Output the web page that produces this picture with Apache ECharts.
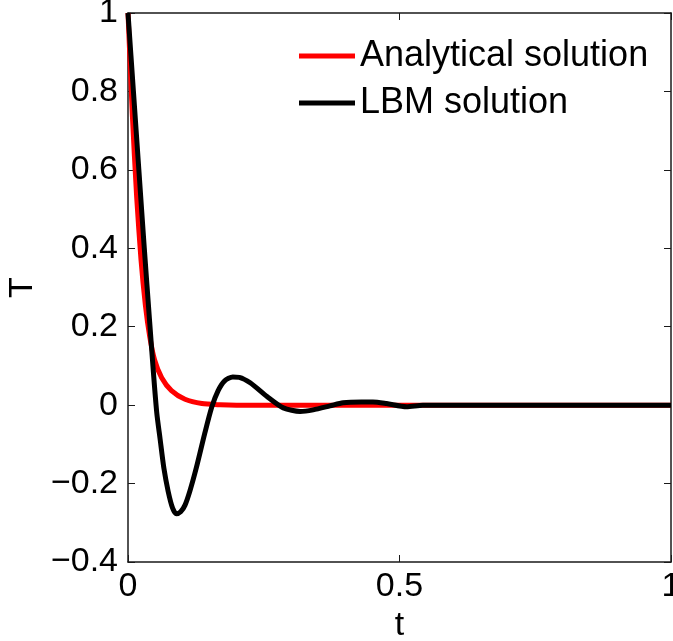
<!DOCTYPE html>
<html>
<head>
<meta charset="utf-8">
<script src="https://cdn.jsdelivr.net/npm/echarts@6/dist/echarts.min.js"></script>
<style>
  html, body { margin: 0; padding: 0; background: #fff; }
  #chart { width: 673px; height: 641px; }
</style>
</head>
<body>
<div id="chart"></div>
<script>
// Temperature decay: analytical solution vs. lattice Boltzmann (LBM) result
const analyticalT = [0, 0.008, 0.016, 0.024, 0.032, 0.04, 0.049, 0.062, 0.08, 0.105, 0.136, 0.17, 0.2, 0.3, 0.4, 0.5, 0.6, 0.7, 0.8, 0.9, 1.0];
const analyticalVal = [1.0, 0.74, 0.53, 0.37, 0.255, 0.175, 0.115, 0.07, 0.037, 0.015, 0.004, 0.001, 0, 0, 0, 0, 0, 0, 0, 0, 0];

const lbmT = [0, 0.01, 0.02, 0.03, 0.04, 0.047, 0.053, 0.059, 0.066, 0.074, 0.082, 0.089, 0.097, 0.105, 0.114, 0.126, 0.141, 0.154, 0.166, 0.178, 0.193, 0.205, 0.225, 0.256, 0.286, 0.317, 0.341, 0.372, 0.396, 0.43, 0.451, 0.476, 0.513, 0.543, 0.6, 0.7, 0.8, 0.9, 1.0];
const lbmVal = [1.0, 0.80, 0.60, 0.40, 0.21, 0.08, -0.02, -0.085, -0.16, -0.22, -0.262, -0.277, -0.272, -0.255, -0.219, -0.159, -0.074, -0.006, 0.037, 0.062, 0.072, 0.071, 0.057, 0.022, -0.007, -0.016, -0.012, -0.002, 0.006, 0.008, 0.008, 0.004, -0.004, 0, 0, 0, 0, 0, 0];

const xTicks = [0, 0.5, 1];
const yTicks = [-0.4, -0.2, 0, 0.2, 0.4, 0.6, 0.8, 1];

const seriesNames = ['Analytical solution', 'LBM solution'];

const pairs = (xs, ys) => xs.map((x, i) => [x, ys[i]]);
const fmt = v => String(Math.round(v * 10) / 10).replace('-', '\u2212');

const font = '"Liberation Sans", Arial, sans-serif';
const axisColor = '#1a1a1a';

const chart = echarts.init(document.getElementById('chart'), null, { renderer: 'canvas' });

const baseX = {
  type: 'value', min: xTicks[0], max: xTicks[xTicks.length - 1], interval: 0.5,
  splitLine: { show: false },
  axisLine: { show: true, onZero: false, lineStyle: { color: axisColor, width: 1.5 } },
  axisTick: { show: true, inside: true, length: 7, lineStyle: { color: axisColor, width: 1 } }
};
const baseY = {
  type: 'value', min: yTicks[0], max: yTicks[yTicks.length - 1], interval: 0.2,
  splitLine: { show: false },
  axisLine: { show: true, onZero: false, lineStyle: { color: axisColor, width: 1.5 } },
  axisTick: { show: true, inside: true, length: 7, lineStyle: { color: axisColor, width: 1 } }
};

chart.setOption({
  animation: false,
  backgroundColor: '#fff',
  grid: { left: 128, right: 2, top: 13, bottom: 79, containLabel: false, outerBoundsMode: 'none' },
  legend: {
    orient: 'vertical',
    left: 294,
    top: 33,
    itemWidth: 56,
    itemHeight: 5,
    itemGap: 11,
    icon: 'rect',
    data: seriesNames,
    textStyle: { fontFamily: font, fontSize: 36, color: '#000', padding: [0, 0, 0, 0] }
  },
  xAxis: [
    Object.assign({}, baseX, {
      position: 'bottom',
      name: 't', nameLocation: 'middle', nameGap: 43,
      nameTextStyle: { fontFamily: font, fontSize: 34, color: '#000' },
      axisLabel: { show: true, margin: 8, fontFamily: font, fontSize: 34, color: '#000', formatter: fmt }
    }),
    Object.assign({}, baseX, { position: 'top', axisLabel: { show: false } })
  ],
  yAxis: [
    Object.assign({}, baseY, {
      position: 'left',
      name: 'T', nameLocation: 'middle', nameGap: 81, nameRotate: 90,
      nameTextStyle: { fontFamily: font, fontSize: 34, color: '#000' },
      axisLabel: { show: true, margin: 10, fontFamily: font, fontSize: 34, color: '#000', formatter: fmt }
    }),
    Object.assign({}, baseY, { position: 'right', axisLabel: { show: false } })
  ],
  series: [
    {
      name: seriesNames[0], type: 'line', xAxisIndex: 0, yAxisIndex: 0,
      data: pairs(analyticalT, analyticalVal),
      showSymbol: false, symbol: 'none', smooth: 0.25,
      color: '#ff0000',
      lineStyle: { color: '#ff0000', width: 5 }
    },
    {
      name: seriesNames[1], type: 'line', xAxisIndex: 0, yAxisIndex: 0,
      data: pairs(lbmT, lbmVal),
      showSymbol: false, symbol: 'none', smooth: 0.25,
      color: '#000000',
      lineStyle: { color: '#000000', width: 5 }
    }
  ]
});
</script>
</body>
</html>
